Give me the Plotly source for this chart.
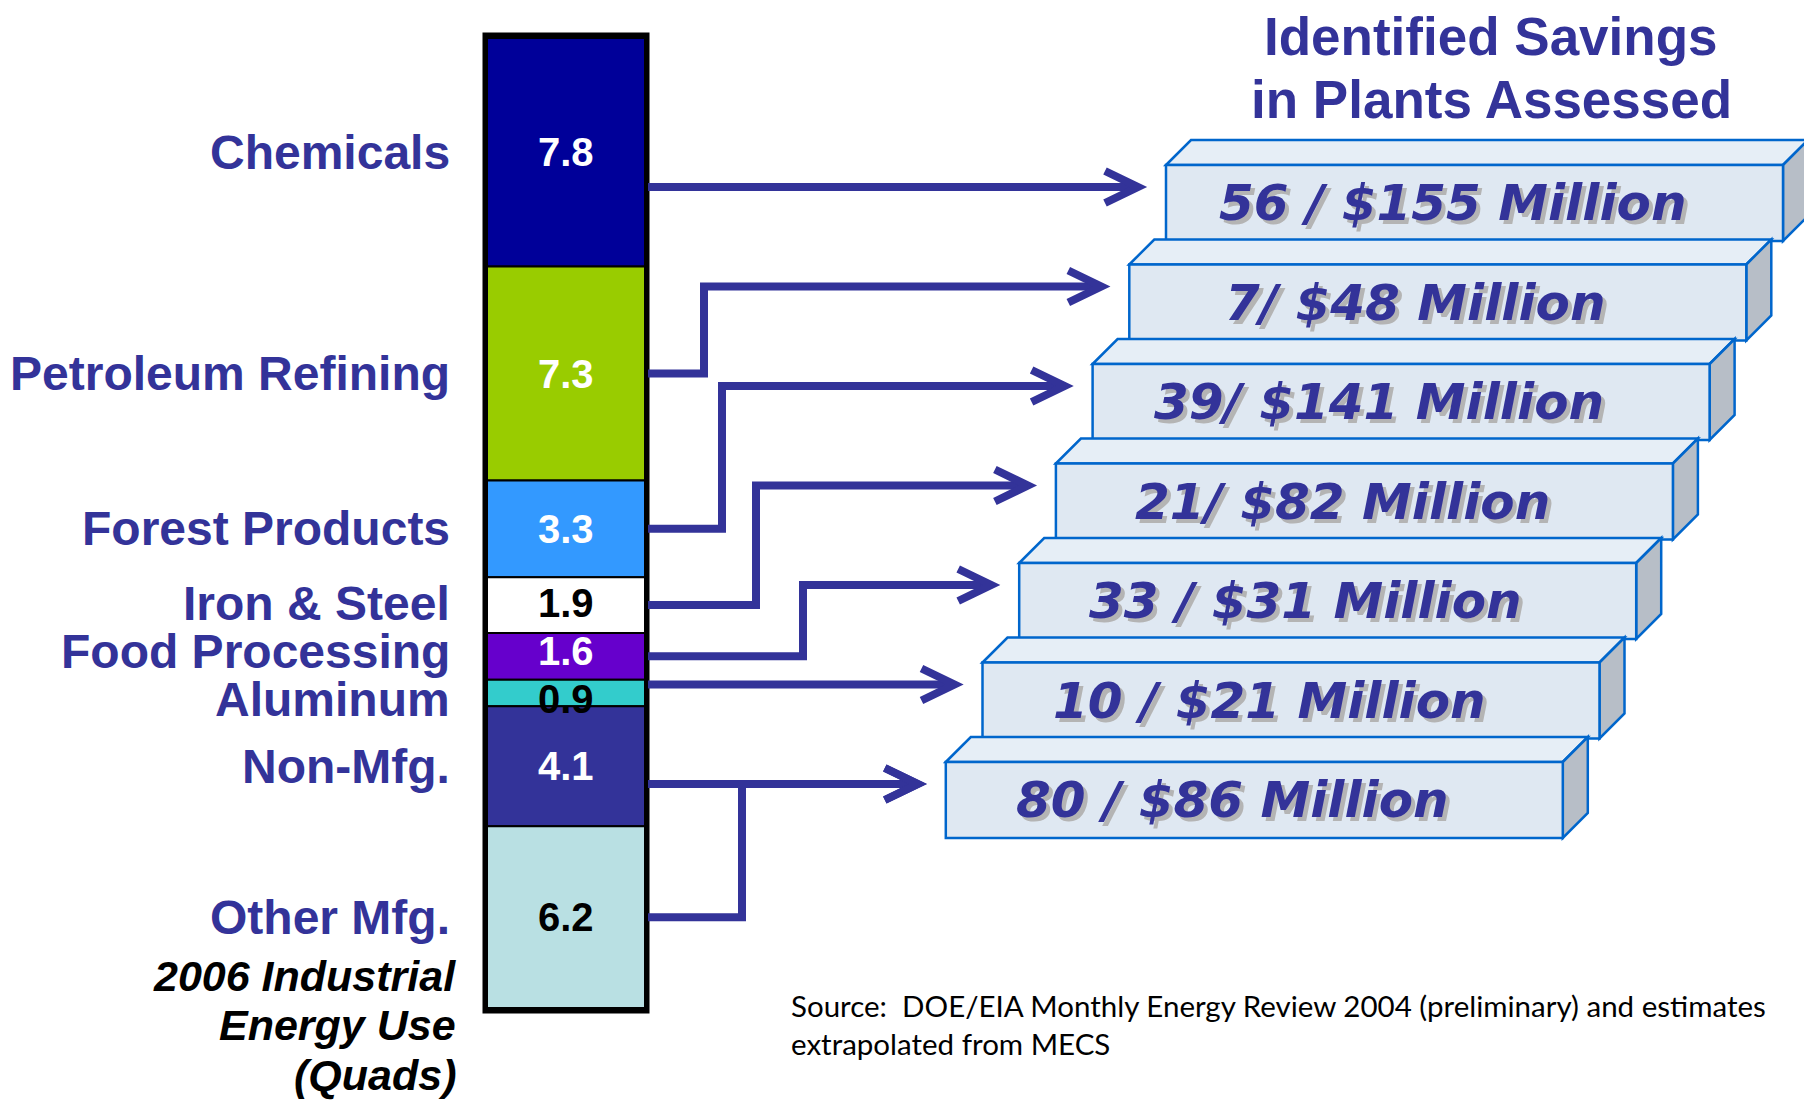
import plotly.graph_objects as go

# 2006 industrial energy use by sector (quads), top of the stack first
sectors = ["Chemicals", "Petroleum Refining", "Forest Products", "Iron & Steel",
           "Food Processing", "Aluminum", "Non-Mfg.", "Other Mfg."]
quads = [7.8, 7.3, 3.3, 1.9, 1.6, 0.9, 4.1, 6.2]
seg_colors = ["#000099", "#99CC00", "#3399FF", "#FFFFFF",
              "#6600CC", "#33CCCC", "#333399", "#B9E0E3"]
num_colors = ["white", "white", "white", "black", "white", "black", "white", "black"]

# identified savings in plants assessed (assessments / $)
savings = ["56 / $155 Million", "7/ $48 Million", "39/ $141 Million", "21/ $82 Million",
           "33 / $31 Million", "10 / $21 Million", "80 / $86 Million"]
# savings box each sector points to
target = [0, 1, 2, 3, 4, 5, 6, 6]

caption = ["2006 Industrial", "Energy Use", "(Quads)"]
source = ["Source:  DOE/EIA Monthly Energy Review 2004 (preliminary) and estimates",
          "extrapolated from MECS"]

# ---- page geometry (pixels) ----
W, H = 1804, 1101
BAR_L, BAR_R = 487, 645
BAR_X = (BAR_L + BAR_R) / 2
BAR_TOP, BAR_BOT = 38, 1008
NAVY = "#333399"

total = sum(quads)
k = (BAR_BOT - BAR_TOP) / total


def py(p):
    # page pixel row -> value on the quads axis
    return (p - BAR_TOP) / k


starts = []
acc = 0
for q in quads:
    starts.append(acc)
    acc += q
mids = [s + q / 2 for s, q in zip(starts, quads)]

# label rows: segment middles, pushed apart so the text does not collide
lab_px = [BAR_TOP + m * k for m in mids]
for _ in range(40):
    for i in range(1, len(lab_px)):
        gap = lab_px[i] - lab_px[i - 1]
        if gap < 48:
            d = (48 - gap) / 2
            lab_px[i - 1] -= d
            lab_px[i] += d

# savings boxes
BOX_L0, BOX_DX = 1166, -36.7
BOX_T0, BOX_DY = 165, 99.5
BOX_W, BOX_H, DEP = 617, 76, 25


def box_left(b):
    return BOX_L0 + BOX_DX * b


def box_top(b):
    return BOX_T0 + BOX_DY * b


elbow_x = [None, 704, 722, 756, 803, None, None, 742]

fig = go.Figure()
fig.add_trace(go.Bar(
    x=[BAR_X] * len(quads), y=quads, base=starts, width=BAR_R - BAR_L,
    marker=dict(color=seg_colors, line=dict(color="black", width=2)),
    hoverinfo="skip"))

shapes = []
annotations = []

# outer frame of the stacked bar
shapes.append(dict(type="rect", xref="x", yref="y", x0=BAR_L - 2, x1=BAR_R + 2,
                   y0=py(BAR_TOP - 3), y1=py(BAR_BOT + 3),
                   line=dict(color="black", width=5)))

# connectors
line_style = dict(color=NAVY, width=8)
for i in range(len(sectors)):
    b = target[i]
    ty = py(box_top(b) + 22)
    tip = box_left(b) - 28
    x0 = BAR_R + 3
    if elbow_x[i] is None:
        path = f"M {x0},{ty} L {tip - 4},{ty}"
    else:
        ex = elbow_x[i]
        path = f"M {x0},{mids[i]} L {ex},{mids[i]} L {ex},{ty} L {tip - 4},{ty}"
    shapes.append(dict(type="path", xref="x", yref="y", path=path, line=line_style))
    head = f"M {tip - 33},{py(box_top(b) + 6)} L {tip},{ty} L {tip - 33},{py(box_top(b) + 38)}"
    shapes.append(dict(type="path", xref="x", yref="y", path=head, line=line_style))

# 3D boxes
for b, txt in enumerate(savings):
    L, T = box_left(b), box_top(b)
    R, B = L + BOX_W, T + BOX_H
    edge = dict(color="#0066CC", width=2.5)
    shapes.append(dict(type="path", xref="x", yref="y", fillcolor="#E6EEF6", line=edge,
                       path=f"M {L},{py(T)} L {L + DEP},{py(T - DEP)} L {R + DEP},{py(T - DEP)} L {R},{py(T)} Z"))
    shapes.append(dict(type="path", xref="x", yref="y", fillcolor="#B7BEC7", line=edge,
                       path=f"M {R},{py(T)} L {R + DEP},{py(T - DEP)} L {R + DEP},{py(B - DEP)} L {R},{py(B)} Z"))
    shapes.append(dict(type="rect", xref="x", yref="y", x0=L, x1=R, y0=py(T), y1=py(B),
                       fillcolor="#DFE8F2", line=edge))
    cx, cy = (L + R) / 2 - 22, T + BOX_H / 2
    for dx, dy, col in [(4, 4, "#B4B4B4"), (0, 0, NAVY)]:
        annotations.append(dict(x=cx + dx, y=py(cy + dy), xref="x", yref="y",
                                text=f"<b><i>{txt}</i></b>", showarrow=False,
                                font=dict(family="DejaVu Sans", size=50, color=col)))

# sector names and values
for i, s in enumerate(sectors):
    annotations.append(dict(x=452, y=py(lab_px[i]), xref="x", yref="y", xanchor="right",
                            text=f"<b>{s}</b>", showarrow=False,
                            font=dict(family="Liberation Sans", size=48, color=NAVY)))
    annotations.append(dict(x=BAR_X, y=py(lab_px[i]), xref="x", yref="y",
                            text=f"<b>{quads[i]}</b>", showarrow=False,
                            font=dict(family="Liberation Sans", size=40, color=num_colors[i])))

for line, yy in zip(caption, [976, 1025, 1075]):
    annotations.append(dict(x=458, y=py(yy), xref="x", yref="y", xanchor="right",
                            text=f"<b><i>{line}</i></b>", showarrow=False,
                            font=dict(family="Liberation Sans", size=43, color="black")))

for line, yy in zip(["Identified Savings", "in Plants Assessed"], [36, 99]):
    annotations.append(dict(x=1491, y=py(yy), xref="x", yref="y",
                            text=f"<b>{line}</b>", showarrow=False,
                            font=dict(family="Liberation Sans", size=53, color=NAVY)))

for line, yy in zip(source, [1005, 1043]):
    annotations.append(dict(x=789, y=py(yy), xref="x", yref="y", xanchor="left",
                            text=line, showarrow=False,
                            font=dict(family="Lato", size=29.5, color="black")))

fig.update_layout(
    width=W, height=H, margin=dict(l=0, r=0, t=0, b=0),
    paper_bgcolor="white", plot_bgcolor="white",
    barmode="overlay", showlegend=False,
    xaxis=dict(visible=False, range=[0, W], fixedrange=True),
    yaxis=dict(visible=False, range=[py(H), py(0)], fixedrange=True),
    shapes=shapes, annotations=annotations)

fig.write_html("out.html", config={"displayModeBar": False},
               post_script="document.body.style.margin='0px';document.body.style.overflow='hidden';")
